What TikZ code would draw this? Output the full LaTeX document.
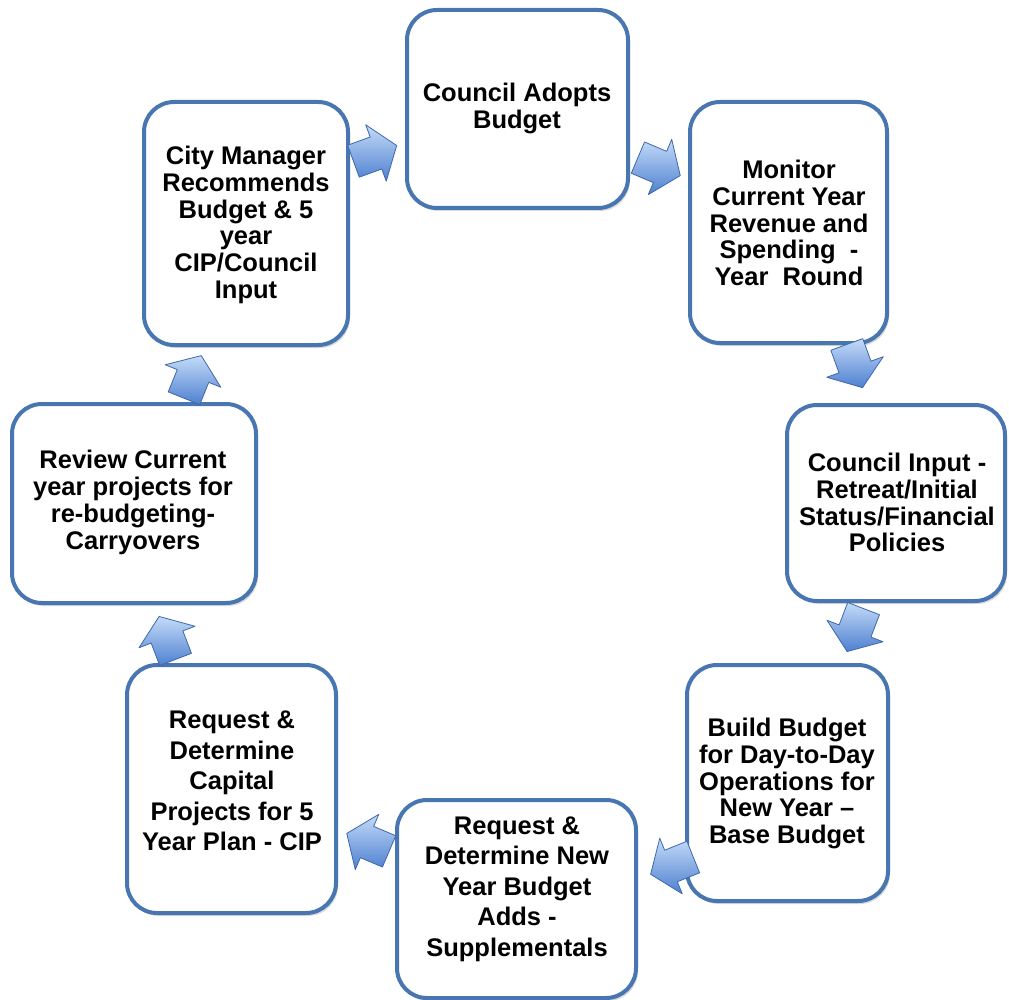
\documentclass[tikz,border=0pt]{standalone}
\usepackage{fontspec}
\setmainfont{Liberation Sans}
\usetikzlibrary{shadows}
\definecolor{boxblue}{RGB}{72,118,176}
\definecolor{arrlight}{RGB}{196,219,248}
\definecolor{arrdark}{RGB}{78,128,208}
\definecolor{arredge}{RGB}{62,104,172}
\tikzset{
  box/.style={draw=boxblue, line width=4pt, fill=white, rounded corners=30pt,
    inner sep=0pt, outer sep=0pt,
    drop shadow={shadow xshift=2pt, shadow yshift=-3pt, opacity=0.15, fill=black}},
  txt/.style={align=center, inner sep=0pt, font=\fontsize{25.5}{26.8}\selectfont\bfseries},
  txtwide/.style={txt, font=\fontsize{25.5}{30.5}\selectfont\bfseries},
  blockarrow/.pic={
    \shade[top color=arrlight, bottom color=arrdark, draw=arredge, line width=0.8pt, line join=round]
      (-24,-17) -- (0,-17) -- (0,-30) -- (22,0) -- (0,30) -- (0,17) -- (-24,17) -- cycle;
  }
}
\begin{document}
\begin{tikzpicture}[x=1pt,y=-1pt]
\useasboundingbox (0,0) rectangle (1009,1000);
% boxes
\node[box, minimum width=221pt, minimum height=198pt] (b1) at (517.5,109) {};
\node[box, minimum width=197pt, minimum height=241pt] (b2) at (788.5,222.5) {};
\node[box, minimum width=218pt, minimum height=196pt] (b3) at (896,503) {};
\node[box, minimum width=201pt, minimum height=236pt] (b4) at (787.5,783) {};
\node[box, minimum width=239pt, minimum height=198pt] (b5) at (516.5,899) {};
\node[box, minimum width=209pt, minimum height=248pt] (b6) at (231.5,789) {};
\node[box, minimum width=244pt, minimum height=199pt] (b7) at (134,503.5) {};
\node[box, minimum width=204pt, minimum height=243pt] (b8) at (246,223.5) {};
% texts
\node[txt] (t1) at (517,108.5) {Council Adopts\\Budget};
\node[txt] (t2) at (789,223) {Monitor\\Current Year\\Revenue and\\Spending~ -\\Year~ Round};
\node[txt] (t3) at (897,502.5) {Council Input -\\Retreat/Initial\\Status/Financial\\Policies};
\node[txt] (t4) at (787,783.5) {Build Budget\\for Day-to-Day\\Operations for\\New Year --\\Base Budget};
\node[txtwide] (t5) at (517,889) {Request \&\\Determine New\\Year Budget\\Adds -\\Supplementals};
\node[txtwide] (t6) at (232,781) {Request \&\\Determine\\Capital\\Projects for 5\\Year Plan - CIP};
\node[txt] (t7) at (133,502.5) {Review Current\\year projects for\\re-budgeting-\\Carryovers};
\node[txt] (t8) at (246,225) {City Manager\\Recommends\\Budget \& 5\\year\\CIP/Council\\Input};
% arrow positions
\coordinate (a1) at (376,153);
\coordinate (a2) at (660,167);
\coordinate (a3) at (855,367);
\coordinate (a4) at (855,631);
\coordinate (a5) at (671,866);
\coordinate (a6) at (367,842);
\coordinate (a7) at (167,637);
\coordinate (a8) at (193,376);
\pic[rotate=20] at (a1) {blockarrow};
\pic[rotate=-23] at (a2) {blockarrow};
\pic[rotate=-70] at (a3) {blockarrow};
\pic[rotate=-111] at (a4) {blockarrow};
\pic[rotate=-158] at (a5) {blockarrow};
\pic[rotate=157] at (a6) {blockarrow};
\pic[rotate=111] at (a7) {blockarrow};
\pic[rotate=68] at (a8) {blockarrow};
\end{tikzpicture}
\end{document}
